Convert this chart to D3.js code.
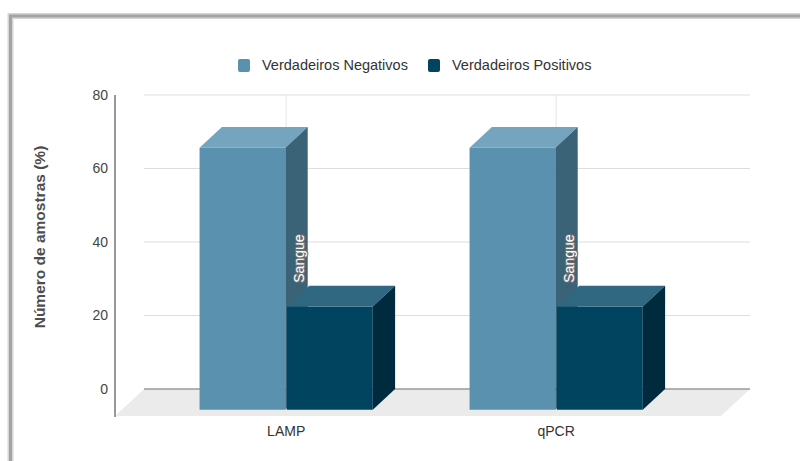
<!DOCTYPE html>
<html>
<head>
<meta charset="utf-8">
<script src="https://cdn.jsdelivr.net/npm/d3@7"></script>
<style>
  html, body { margin: 0; padding: 0; background: #fff; }
  svg { display: block; font-family: "Liberation Sans", Arial, sans-serif; }
</style>
</head>
<body>
<svg id="chart" width="800" height="461"></svg>
<script>
// Categories, series and values
const categories = ["LAMP", "qPCR"];
const seriesNames = ["Verdadeiros Negativos", "Verdadeiros Positivos"];
const negativos = [71.3, 71.3];
const positivos = [28.1, 28.1];
const yTicks = [0, 20, 40, 60, 80];
const annotations = ["Sangue", "Sangue"];

const seriesValues = [negativos, positivos];
const palette = [
  { front: "#5a91ae", top: "#75a5be", side: "#3b6377" },
  { front: "#00445f", top: "#2f6880", side: "#002b3e" }
];

const svg = d3.select("#chart");

// Outer frame
const frame = svg.append("g");
frame.append("rect").attr("x", 10.5).attr("y", 16).attr("width", 820).attr("height", 480)
  .attr("fill", "none").attr("stroke", "#d6d6d6").attr("stroke-width", 6);
frame.append("rect").attr("x", 10.5).attr("y", 16).attr("width", 820).attr("height", 480)
  .attr("fill", "none").attr("stroke", "#a4a4a4").attr("stroke-width", 3);

// Back-plane scales
const y = d3.scaleLinear().domain([0, 80]).range([389, 95]);
const x = d3.scaleBand().domain(categories).range([173.5, 713.5]).padding(0);
const xs = d3.scaleBand().domain(seriesNames).range([-86.6, 86.6]).paddingInner(0.018);

// Oblique depth: z = 0 at the back wall, z = 1 at the front of the floor
const DX = 29, DY = 27;
const barDepth = 0.77;
const proj = (px, py, z) => [px - DX * z, py + DY * z];
const plotX0 = 144, plotX1 = 750;

// Floor
const f = [proj(plotX0, y(0), 0), proj(plotX1, y(0), 0), proj(plotX1, y(0), 1), proj(plotX0, y(0), 1)];
svg.append("polygon").attr("points", f.map(p => p.join(",")).join(" ")).attr("fill", "#ebebeb");

// Horizontal gridlines on the back wall
svg.append("g").selectAll("line").data(yTicks.filter(t => t !== 0)).join("line")
  .attr("x1", plotX0).attr("x2", plotX1)
  .attr("y1", d => y(d)).attr("y2", d => y(d))
  .attr("stroke", "#dddddd").attr("stroke-width", 1.2);

// Vertical gridlines at the category centres
svg.append("g").selectAll("line").data(categories).join("line")
  .attr("x1", d => proj(x(d) + x.bandwidth() / 2, 0, barDepth)[0])
  .attr("x2", d => proj(x(d) + x.bandwidth() / 2, 0, barDepth)[0])
  .attr("y1", y(80)).attr("y2", y(0))
  .attr("stroke", "#e6e6e6").attr("stroke-width", 1);

// Zero baseline
svg.append("line").attr("x1", plotX0).attr("x2", plotX1).attr("y1", y(0)).attr("y2", y(0))
  .attr("stroke", "#9a9a9a").attr("stroke-width", 1.5);

// Y axis
const yAxis = svg.append("g").attr("transform", "translate(115,0)")
  .call(d3.axisLeft(y).tickValues(yTicks).tickSize(0).tickPadding(7));
yAxis.select(".domain").remove();
yAxis.selectAll("text").attr("font-size", 14).attr("fill", "#444")
  .attr("font-family", "'Liberation Sans', Arial, sans-serif");
svg.append("line").attr("x1", 115).attr("x2", 115).attr("y1", y(80)).attr("y2", proj(0, y(0), 1)[1] + 1)
  .attr("stroke", "#333").attr("stroke-width", 1);

// Y axis title
svg.append("text").attr("transform", "translate(44.5,237) rotate(-90)")
  .attr("text-anchor", "middle").attr("font-size", 15.5).attr("font-weight", "bold")
  .attr("fill", "#4d4d4d").text("Número de amostras (%)");

// 3D bars
const bars = svg.append("g");
categories.forEach((cat, ci) => {
  seriesNames.forEach((s, si) => {
    const v = seriesValues[si][ci];
    const c = palette[si];
    const xl = x(cat) + x.bandwidth() / 2 + xs(s);
    const xr = xl + xs.bandwidth();
    const yt = y(v), yb = y(0);
    const pts = (arr) => arr.map(p => p.join(",")).join(" ");
    // front face
    const fl = proj(xl, yt, barDepth), fr = proj(xr, yt, barDepth);
    const bl = proj(xl, yb, barDepth), br = proj(xr, yb, barDepth);
    bars.append("polygon").attr("points", pts([fl, fr, br, bl])).attr("fill", c.front);
    // top face
    bars.append("polygon").attr("points", pts([fl, fr, [xr, yt], [xl, yt]])).attr("fill", c.top);
    // right side face
    bars.append("polygon").attr("points", pts([fr, [xr, yt], [xr, yb], br])).attr("fill", c.side);
  });
});

// Annotation on each category, placed above the positive bar on the negative bar's side
categories.forEach((cat, ci) => {
  const xBoundary = x(cat) + x.bandwidth() / 2 + xs(seriesNames[1]);
  const ax = xBoundary - 10;
  const ay = y(positivos[ci]) - 3;
  svg.append("text").attr("transform", `translate(${ax},${ay}) rotate(-90)`)
    .attr("dy", "0.35em").attr("font-size", 14).attr("fill", "#fff")
    .attr("stroke", "#6f6f6f").attr("stroke-width", 2.2).attr("paint-order", "stroke")
    .attr("stroke-linejoin", "round")
    .text(annotations[ci]);
});

// Category labels
svg.append("g").selectAll("text").data(categories).join("text")
  .attr("x", d => proj(x(d) + x.bandwidth() / 2, 0, barDepth)[0])
  .attr("y", 436).attr("text-anchor", "middle").attr("font-size", 14).attr("fill", "#333")
  .text(d => d);

// Legend
const legendX = [238, 428];
const legend = svg.append("g");
seriesNames.forEach((s, i) => {
  legend.append("rect").attr("x", legendX[i]).attr("y", 59).attr("width", 12).attr("height", 13)
    .attr("rx", 2).attr("fill", palette[i].front);
  legend.append("text").attr("x", legendX[i] + 24).attr("y", 70)
    .attr("font-size", 14.5).attr("fill", "#333").text(s);
});
</script>
</body>
</html>
